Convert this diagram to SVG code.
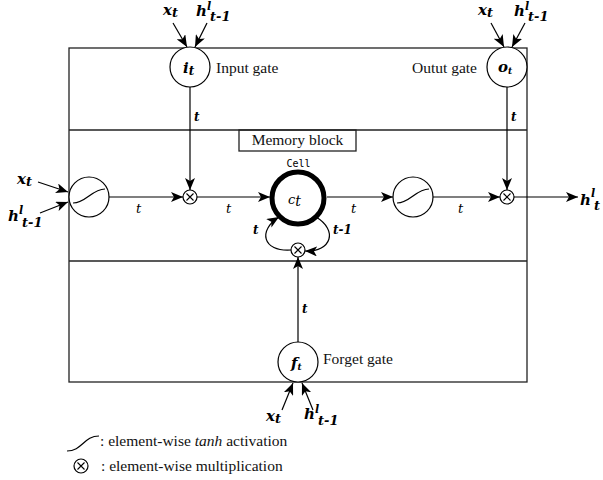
<svg xmlns="http://www.w3.org/2000/svg" width="603" height="480" viewBox="0 0 603 480">
<style>
.box{fill:none;stroke:#222;stroke-width:1.3}
.ln{fill:none;stroke:#000;stroke-width:1.2}
.arr{marker-end:url(#ah)}
.nd{fill:#fff;stroke:#000;stroke-width:1.2}
.txt{font-family:"Liberation Serif","DejaVu Serif",serif;font-size:15.5px;fill:#111}
.m{font-family:"DejaVu Serif","Liberation Serif",serif;font-weight:bold;font-style:italic;font-size:15px;fill:#000}
.ms{font-family:"DejaVu Serif","Liberation Serif",serif;font-weight:bold;font-style:italic;font-size:13px;fill:#000}
.sup{font-size:11px}
.sb{font-size:13px}
.el{font-family:"DejaVu Serif","Liberation Serif",serif;font-style:italic;font-size:13px;fill:#000}
.eb{font-family:"DejaVu Serif","Liberation Serif",serif;font-style:italic;font-weight:bold;font-size:12px;fill:#000}
.mono{font-family:"DejaVu Sans Mono","Liberation Mono",monospace;font-size:10px;fill:#000}
</style>
<defs>
<marker id="ah" viewBox="0 0 12 10" refX="12" refY="5" markerWidth="12" markerHeight="10" orient="auto" markerUnits="userSpaceOnUse">
<path d="M0,0 L12,5 L0,10 L3,5 z" fill="#000"/>
</marker>
<path id="sig" d="M-16,6 C-3,6 3,-8 16,-8" fill="none" stroke="#000" stroke-width="1.2"/>
<g id="mul">
<circle r="7" fill="#fff" stroke="#000" stroke-width="1.2"/>
<path d="M-3.5,-3.5 L3.5,3.5 M3.5,-3.5 L-3.5,3.5" stroke="#000" stroke-width="1.1"/>
</g>
</defs>
<rect width="603" height="480" fill="#fff"/>

<g id="frame">
<rect class="box" x="69" y="48" width="458" height="334"/>
<line class="box" x1="69" y1="130" x2="527" y2="130"/>
<line class="box" x1="69" y1="261" x2="527" y2="261"/>
</g>

<g id="memory-label">
<rect class="box" x="239" y="130" width="117" height="21" fill="#fff"/>
<text class="txt" x="297.5" y="145" text-anchor="middle">Memory block</text>
</g>

<g id="connectors">
<line class="ln arr" x1="173" y1="23" x2="187" y2="47"/>
<line class="ln arr" x1="207" y1="23" x2="195" y2="47"/>
<line class="ln arr" x1="491" y1="23" x2="504" y2="47"/>
<line class="ln arr" x1="525" y1="23" x2="512" y2="47"/>
<line class="ln arr" x1="38" y1="182" x2="68" y2="192"/>
<line class="ln arr" x1="40" y1="213" x2="68" y2="202"/>
<line class="ln arr" x1="282" y1="410" x2="293" y2="383"/>
<line class="ln arr" x1="313" y1="410" x2="302" y2="383"/>
<line class="ln arr" x1="190" y1="87" x2="190" y2="190"/>
<line class="ln arr" x1="507" y1="87" x2="507" y2="190"/>
<line class="ln arr" x1="109" y1="197" x2="183" y2="197"/>
<line class="ln arr" x1="197" y1="197" x2="270" y2="197"/>
<line class="ln arr" x1="327" y1="197" x2="393" y2="197"/>
<line class="ln arr" x1="433" y1="197" x2="500" y2="197"/>
<line class="ln arr" x1="514" y1="197" x2="578" y2="197"/>
<path class="ln arr" d="M316,217 C338,230 332,252 305,251"/>
<path class="ln arr" d="M291,250 C262,252 258,230 279,217"/>
<line class="ln arr" x1="298" y1="342" x2="298" y2="257"/>
</g>

<g id="edge-labels">
<text class="eb" x="194" y="121">t</text>
<text class="eb" x="511" y="121">t</text>
<text class="el" x="136" y="213">t</text>
<text class="el" x="226" y="213">t</text>
<text class="el" x="351" y="213">t</text>
<text class="el" x="458" y="213">t</text>
<text class="eb" x="253" y="234">t</text>
<text class="eb" x="333" y="234">t-1</text>
<text class="eb" x="302" y="313">t</text>
</g>

<g id="input-gate">
<circle class="nd" cx="190" cy="67" r="20"/>
<text class="m" x="183" y="73">i<tspan font-size="12" dy="2">t</tspan></text>
<text class="txt" x="216" y="73">Input gate</text>
</g>

<g id="output-gate">
<circle class="nd" cx="507" cy="67" r="20"/>
<text class="m" x="498" y="72" font-size="14">o<tspan font-size="9" dy="2">t</tspan></text>
<text class="txt" x="477" y="73" text-anchor="end">Outut gate</text>
</g>

<g id="forget-gate">
<circle class="nd" cx="298" cy="362" r="20"/>
<text class="m" x="291" y="368">f<tspan font-size="9" dy="2">t</tspan></text>
<text class="txt" x="323" y="364">Forget gate</text>
</g>

<g id="tanh-in">
<circle class="nd" cx="89" cy="197" r="20"/>
<use href="#sig" x="89" y="197"/>
</g>

<g id="tanh-out">
<circle class="nd" cx="413" cy="197" r="20"/>
<use href="#sig" x="413" y="197"/>
</g>

<g id="mult-in"><use href="#mul" x="190" y="197"/></g>
<g id="mult-out"><use href="#mul" x="507" y="197"/></g>
<g id="mult-loop"><use href="#mul" x="298" y="250"/></g>

<g id="cell">
<circle cx="298" cy="198" r="26" fill="#fff" stroke="#000" stroke-width="5"/>
<text class="mono" x="298.5" y="167" text-anchor="middle">Cell</text>
<text class="el" x="288" y="204" font-size="19">c<tspan font-size="14" dy="2">t</tspan></text>
</g>

<g id="io-labels">
<text class="m" x="163" y="15">x<tspan class="sb" dy="2">t</tspan></text>
<text class="m" x="196" y="16">h<tspan class="sup" dy="-6">l</tspan><tspan class="sb" dx="-1" dy="11">t-1</tspan></text>

<text class="m" x="478" y="15">x<tspan class="sb" dy="2">t</tspan></text>
<text class="m" x="514" y="16">h<tspan class="sup" dy="-6">l</tspan><tspan class="sb" dx="-1" dy="11">t-1</tspan></text>

<text class="m" x="17" y="184">x<tspan class="sb" dy="2">t</tspan></text>
<text class="m" x="8" y="221">h<tspan class="sup" dy="-7">l</tspan><tspan class="sb" dx="-1" dy="13">t-1</tspan></text>

<text class="m" x="266" y="421">x<tspan class="sb" dy="2">t</tspan></text>
<text class="m" x="304" y="419">h<tspan class="sup" dy="-6">l</tspan><tspan class="sb" dx="-1" dy="12">t-1</tspan></text>

<text class="m" x="580" y="205">h<tspan class="sup" dy="-8">l</tspan><tspan class="sb" dx="-1" dy="13">t</tspan></text>
</g>

<g id="legend">
<path d="M67,451 C82,451 84,436 99,436" fill="none" stroke="#000" stroke-width="1.2"/>
<text class="txt" x="100" y="446">: element-wise <tspan font-style="italic">tanh</tspan> activation</text>
<use href="#mul" x="81" y="466"/>
<text class="txt" x="101" y="471">: element-wise multiplication</text>
</g>
</svg>
